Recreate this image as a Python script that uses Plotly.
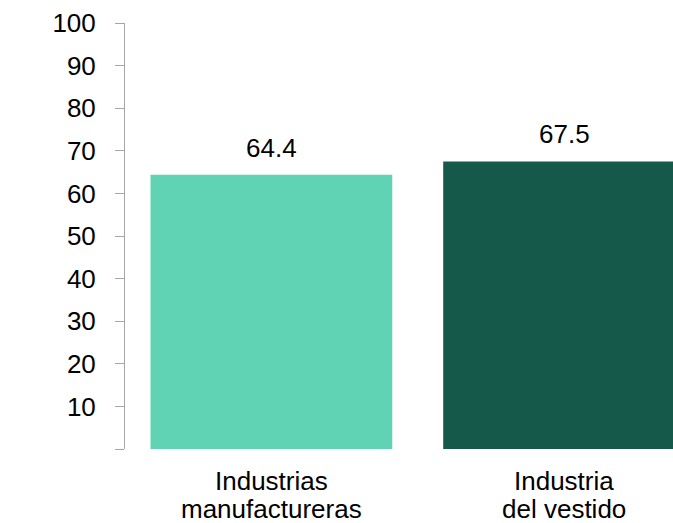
import plotly.graph_objects as go

categories = ["Industrias manufactureras", "Industria del vestido"]
label_line1 = ["Industrias", "Industria"]
label_line2 = ["manufactureras", "del vestido"]
values = [64.4, 67.5]
bar_colors = ["#60D3B4", "#15594B"]
y_tickvals = [0, 10, 20, 30, 40, 50, 60, 70, 80, 90, 100]
y_ticktext = ["", "10", "20", "30", "40", "50", "60", "70", "80", "90", "100"]

FONT = "Liberation Sans, Arial, sans-serif"

fig = go.Figure()
fig.add_trace(go.Bar(
    x=categories, y=values,
    marker=dict(color=bar_colors, line=dict(width=0)),
    width=0.826,
    hoverinfo="skip",
))

for c, v in zip(categories, values):
    fig.add_annotation(x=c, y=v, text=f"{v:.1f}", showarrow=False,
                       yanchor="bottom", yshift=10,
                       font=dict(family=FONT, size=26, color="#000000"))

for c, l1, l2 in zip(categories, label_line1, label_line2):
    fig.add_annotation(x=c, xref="x", y=0, yref="paper", text=l1,
                       showarrow=False, yanchor="middle", yshift=-32,
                       font=dict(family=FONT, size=26, color="#000000"))
    fig.add_annotation(x=c, xref="x", y=0, yref="paper", text=l2,
                       showarrow=False, yanchor="middle", yshift=-60,
                       font=dict(family=FONT, size=26, color="#000000"))

fig.update_layout(
    width=673, height=523,
    margin=dict(l=125, r=0, t=23, b=74),
    paper_bgcolor="white", plot_bgcolor="white",
    showlegend=False,
    font=dict(family=FONT, size=26, color="#000000"),
    xaxis=dict(
        range=[-0.5, 1.372],
        showline=False, showgrid=False, zeroline=False,
        ticks="", showticklabels=False,
    ),
    yaxis=dict(
        range=[0, 100],
        tickvals=y_tickvals, ticktext=y_ticktext,
        showline=True, linecolor="#A6A6A6", linewidth=1,
        ticks="outside", ticklen=9, tickcolor="#A6A6A6", tickwidth=1,
        ticklabelstandoff=14,
        showgrid=False, zeroline=False,
        tickfont=dict(family=FONT, size=26, color="#000000"),
    ),
)

fig.write_html("out.html",
               config={"displayModeBar": False},
               post_script="document.body.style.margin='0px';document.body.style.overflow='hidden';")
